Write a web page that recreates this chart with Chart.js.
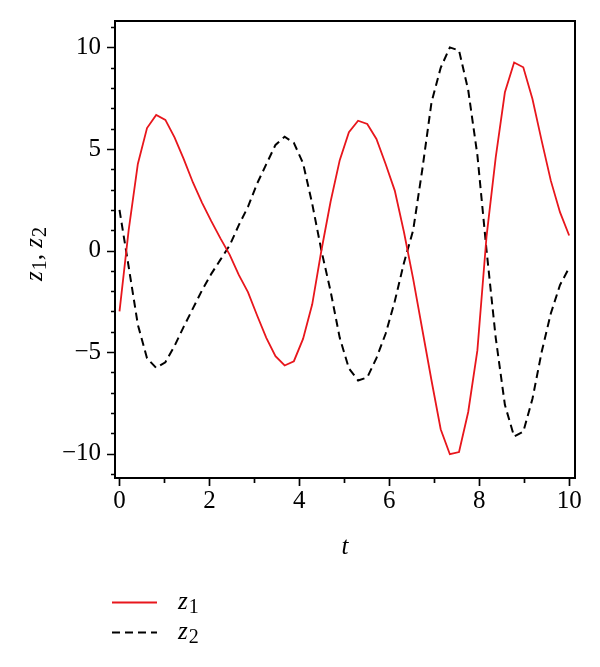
<!DOCTYPE html>
<html>
<head>
<meta charset="utf-8">
<script src="https://cdn.jsdelivr.net/npm/chart.js@4/dist/chart.umd.min.js"></script>
<style>
html,body{margin:0;padding:0;background:#fff;}
#wrap{width:600px;height:667px;}
</style>
</head>
<body>
<div id="wrap"><canvas id="c" width="600" height="667"></canvas></div>
<script>
// ---- data ----
const tValues = [0, 0.204, 0.408, 0.612, 0.816, 1.020, 1.224, 1.429, 1.633, 1.837,
  2.041, 2.245, 2.449, 2.653, 2.857, 3.061, 3.265, 3.469, 3.673, 3.878,
  4.082, 4.286, 4.490, 4.694, 4.898, 5.102, 5.306, 5.510, 5.714, 5.918,
  6.122, 6.327, 6.531, 6.735, 6.939, 7.143, 7.347, 7.551, 7.755, 7.959,
  8.163, 8.367, 8.571, 8.776, 8.980, 9.184, 9.388, 9.592, 9.796, 10.0];
const z1Values = [-3.0, 1.0, 4.26, 6.03, 6.67, 6.43, 5.57, 4.5, 3.35, 2.35,
  1.45, 0.6, -0.2, -1.2, -2.05, -3.2, -4.3, -5.2, -5.66, -5.45,
  -4.35, -2.65, 0.0, 2.4, 4.45, 5.82, 6.39, 6.23, 5.49, 4.26,
  2.95, 0.9, -1.4, -3.9, -6.4, -8.8, -10.03, -9.92, -7.95, -4.92,
  0.7, 4.59, 7.79, 9.26, 9.02, 7.46, 5.41, 3.44, 1.89, 0.74];
const z2Values = [2.0, -0.8, -3.65, -5.3, -5.78, -5.5, -4.7, -3.75, -2.85, -1.95,
  -1.15, -0.45, 0.25, 1.25, 2.15, 3.3, 4.25, 5.2, 5.6, 5.3,
  4.3, 2.3, 0.0, -2.0, -4.3, -5.8, -6.4, -6.25, -5.3, -4.1,
  -2.5, -0.6, 1.0, 4.0, 7.3, 9.0, 10.0, 9.85, 7.9, 4.7,
  0.0, -4.3, -7.6, -9.16, -8.92, -7.3, -5.0, -3.1, -1.7, -0.85];
const seriesNames = ['z1', 'z2'];
const seriesSubscripts = ['1', '2'];
const xTickValues = [0, 2, 4, 6, 8, 10];
const xTickLabels = ['0', '2', '4', '6', '8', '10'];
const yTickValues = [-10, -5, 0, 5, 10];
const yTickLabels = ['\u221210', '\u22125', '0', '5', '10'];
const xTitle = 't';

const SERIF = "'Liberation Serif', 'DejaVu Serif', serif";

function pts(ys) { return tValues.map((t, i) => ({ x: t, y: ys[i] })); }

// draw "z" italic + subscript digit at a given position (in current transform)
function drawZSub(ctx, x, baseline, sub) {
  ctx.font = "italic 25px " + SERIF;
  ctx.textBaseline = 'alphabetic';
  ctx.textAlign = 'left';
  ctx.fillText('z', x, baseline);
  const w = ctx.measureText('z').width;
  ctx.font = "20px " + SERIF;
  ctx.fillText(sub, x + w + 1, baseline + 4);
  return x + w + 1 + ctx.measureText(sub).width;
}

const decorPlugin = {
  id: 'decor',
  afterDraw(chart) {
    const ctx = chart.ctx;
    const a = chart.chartArea;
    const xs = chart.scales.x, ys = chart.scales.y;
    ctx.save();
    // frame
    ctx.strokeStyle = '#000';
    ctx.lineWidth = 2;
    ctx.strokeRect(a.left, a.top, a.right - a.left, a.bottom - a.top);
    // ticks
    ctx.lineWidth = 1.7;
    ctx.beginPath();
    for (let v = Math.ceil(xs.min); v <= Math.floor(xs.max); v++) {
      const px = Math.round(xs.getPixelForValue(v)) + 0.5;
      const len = (v % 2 === 0) ? 8 : 5;
      ctx.moveTo(px, a.bottom);
      ctx.lineTo(px, a.bottom + len);
    }
    for (let v = Math.ceil(ys.min); v <= Math.floor(ys.max); v++) {
      const py = Math.round(ys.getPixelForValue(v)) + 0.5;
      const len = (v % 5 === 0) ? 8 : 4;
      ctx.moveTo(a.left, py);
      ctx.lineTo(a.left - len, py);
    }
    ctx.stroke();

    // y axis title  z1, z2 (rotated)
    ctx.fillStyle = '#000';
    ctx.save();
    ctx.translate(42, 254);
    ctx.rotate(-Math.PI / 2);
    ctx.font = "italic 25px " + SERIF;
    const zw = ctx.measureText('z').width;
    ctx.font = "20px " + SERIF;
    const dw = ctx.measureText('1').width;
    ctx.font = "25px " + SERIF;
    const cw = ctx.measureText(', ').width;
    const total = 2 * (zw + 1 + dw) + cw;
    let x = -total / 2;
    x = drawZSub(ctx, x, 0, seriesSubscripts[0]);
    ctx.font = "25px " + SERIF;
    ctx.fillText(',', x, 0);
    x += cw;
    drawZSub(ctx, x, 0, seriesSubscripts[1]);
    ctx.restore();

    // legend
    chart.data.datasets.forEach((ds, i) => {
      const y = 602 + 30 * i;
      ctx.save();
      ctx.strokeStyle = ds.borderColor;
      ctx.lineWidth = ds.borderWidth;
      ctx.setLineDash(ds.borderDash || []);
      ctx.beginPath();
      ctx.moveTo(112, y + 0.5);
      ctx.lineTo(157, y + 0.5);
      ctx.stroke();
      ctx.restore();
      ctx.fillStyle = '#000';
      drawZSub(ctx, 178, y + 7, seriesSubscripts[i]);
    });
    ctx.restore();
  }
};

const ctx = document.getElementById('c').getContext('2d');
new Chart(ctx, {
  type: 'line',
  data: {
    datasets: [
      { label: seriesNames[0], data: pts(z1Values), borderColor: '#e8161c', borderWidth: 1.8,
        pointRadius: 0, tension: 0, fill: false },
      { label: seriesNames[1], data: pts(z2Values), borderColor: '#000000', borderWidth: 2,
        borderDash: [8, 5], pointRadius: 0, tension: 0, fill: false }
    ]
  },
  options: {
    responsive: false,
    animation: false,
    devicePixelRatio: 1,
    layout: { padding: { left: 0, top: 21, right: 25, bottom: 101 } },
    plugins: { legend: { display: false }, tooltip: { enabled: false } },
    scales: {
      x: {
        type: 'linear', min: -0.1, max: 10.13,
        grid: { display: false, drawTicks: false },
        border: { display: false },
        ticks: {
          stepSize: 2, includeBounds: false, autoSkip: false, maxRotation: 0,
          padding: 8, color: '#000', font: { family: SERIF, size: 25 },
          callback: (v) => { const k = xTickValues.indexOf(v); return k >= 0 ? xTickLabels[k] : null; }
        },
        title: { display: true, text: xTitle, color: '#000',
                 font: { family: SERIF, size: 25, style: 'italic' }, padding: { top: 4, bottom: 4 } },
        afterFit: (s) => { s.height = 88; s.paddingLeft = 0; s.paddingRight = 0; }
      },
      y: {
        type: 'linear', min: -11.2, max: 11.3,
        grid: { display: false, drawTicks: false },
        border: { display: false },
        ticks: {
          stepSize: 5, includeBounds: false, autoSkip: false,
          padding: 14, color: '#000', font: { family: SERIF, size: 25 },
          callback: (v) => { const k = yTickValues.indexOf(v); return k >= 0 ? yTickLabels[k] : null; }
        },
        afterFit: (s) => { s.width = 115; s.paddingTop = 0; s.paddingBottom = 0; }
      }
    }
  },
  plugins: [decorPlugin]
});
</script>
</body>
</html>
